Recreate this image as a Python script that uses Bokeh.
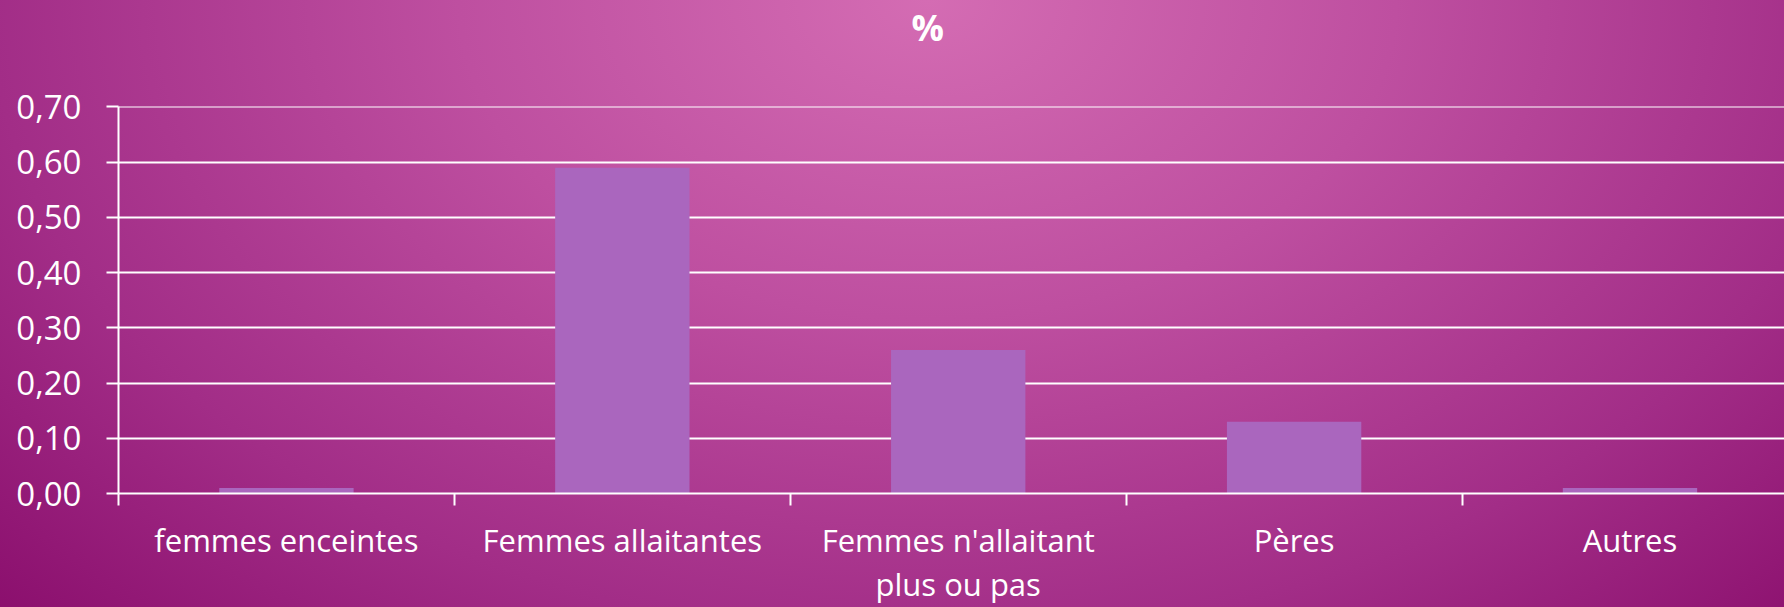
from bokeh.plotting import figure
from bokeh.models import Range1d, FixedTicker, InlineStyleSheet, Title
from bokeh.embed import file_html
from bokeh.resources import INLINE

# ---- data ----
categories = ["femmes enceintes", "Femmes allaitantes", "Femmes n'allaitant\nplus ou pas", "Pères", "Autres"]
values = [0.01, 0.59, 0.26, 0.13, 0.01]
y_ticks = [0.0, 0.1, 0.2, 0.3, 0.4, 0.5, 0.6, 0.7]
y_labels = ["0,00", "0,10", "0,20", "0,30", "0,40", "0,50", "0,60", "0,70"]
title_text = "%"

FONT = "Open Sans"
W, H = 1784, 607

centers = [i + 0.5 for i in range(len(categories))]
bounds = [float(i) for i in range(len(categories) + 1)]

css = InlineStyleSheet(css=""":host {
  background: radial-gradient(ellipse 75% 150% at 52% 0%, #D46CB3 0%, #BE4FA0 35%, #A22D87 70%, #880B6A 100%);
}""")

p = figure(width=W, height=H, output_backend="svg", toolbar_location=None,
           x_range=Range1d(0, 4.96), y_range=Range1d(0, 0.7008),
           min_border_left=118, min_border_right=0, min_border_top=106, min_border_bottom=112,
           stylesheets=[css])
p.background_fill_alpha = 0
p.border_fill_alpha = 0
p.outline_line_color = None
p.title = None

spacer = Title(text=" ", text_font_size="1px", standoff=52)
pct = Title(text=title_text, align="left", offset=793, standoff=0,
            text_font=FONT, text_font_size="36px", text_font_style="bold",
            text_color="white")
p.add_layout(spacer, "above")
p.add_layout(pct, "above")

p.vbar(x=centers, top=values, width=0.4, fill_color="#AA66BE", line_color=None)

# y axis
p.yaxis.ticker = FixedTicker(ticks=y_ticks, minor_ticks=[])
p.yaxis.major_label_overrides = {t: l for t, l in zip(y_ticks, y_labels)}
p.yaxis.axis_line_color = "white"
p.yaxis.axis_line_width = 2
p.yaxis.major_tick_line_color = "white"
p.yaxis.major_tick_line_width = 2
p.yaxis.major_tick_out = 12
p.yaxis.major_tick_in = 0
p.yaxis.major_label_text_color = "white"
p.yaxis.major_label_text_font = FONT
p.yaxis.major_label_text_font_size = "33px"
p.yaxis.major_label_standoff = 25

# x axis
p.xaxis.ticker = FixedTicker(ticks=centers, minor_ticks=bounds)
p.xaxis.major_label_overrides = {c: l for c, l in zip(centers, categories)}
p.xaxis.axis_line_color = "white"
p.xaxis.axis_line_width = 2
p.xaxis.major_tick_line_color = None
p.xaxis.major_tick_out = 0
p.xaxis.minor_tick_line_color = "white"
p.xaxis.minor_tick_line_width = 2
p.xaxis.minor_tick_out = 12
p.xaxis.minor_tick_in = 0
p.xaxis.major_label_text_color = "white"
p.xaxis.major_label_text_font = FONT
p.xaxis.major_label_text_font_size = "31px"
p.xaxis.major_label_text_line_height = 1.05
p.xaxis.major_label_standoff = 13

p.xgrid.grid_line_color = None
p.ygrid.ticker = FixedTicker(ticks=y_ticks)
p.ygrid.grid_line_color = "white"
p.ygrid.grid_line_width = 2

open("out.html", "w").write(file_html(p, INLINE))
